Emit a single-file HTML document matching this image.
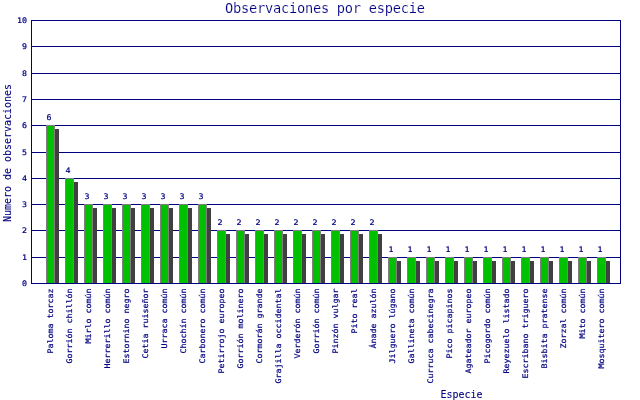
<!DOCTYPE html>
<html lang="es"><head><meta charset="utf-8"><title>Observaciones por especie</title>
<style>
html,body{margin:0;padding:0;background:#fff;}
body{width:640px;height:400px;overflow:hidden;}
svg{display:block;}
text{fill:#000080;white-space:pre;}
.big{font-family:"DejaVu Sans Mono","Liberation Mono",monospace;font-size:13.7px;stroke:#fff;stroke-width:0.15px;}
.small{font-family:"DejaVu Sans Mono","Liberation Mono",monospace;font-size:10px;stroke:#000080;stroke-width:0.09px;}

.tiny{font-family:"DejaVu Sans Mono","Liberation Mono",monospace;font-size:8.3px;stroke:#000080;stroke-width:0.22px;}

.g{fill:#00c000}.s{fill:#404040}.b{fill:#808080}.n{fill:#000080}
</style></head><body>
<svg width="640" height="400" viewBox="0 0 640 400">
<rect x="0" y="0" width="640" height="400" fill="#ffffff"/>
<g shape-rendering="crispEdges">
<rect class="n" x="31" y="283" width="590" height="1"/>
<rect class="n" x="31" y="257" width="590" height="1"/>
<rect class="n" x="31" y="230" width="590" height="1"/>
<rect class="n" x="31" y="204" width="590" height="1"/>
<rect class="n" x="31" y="178" width="590" height="1"/>
<rect class="n" x="31" y="152" width="590" height="1"/>
<rect class="n" x="31" y="125" width="590" height="1"/>
<rect class="n" x="31" y="99" width="590" height="1"/>
<rect class="n" x="31" y="73" width="590" height="1"/>
<rect class="n" x="31" y="46" width="590" height="1"/>
<rect class="n" x="31" y="20" width="590" height="1"/>
<rect class="n" x="31" y="20" width="1" height="264"/>
<rect class="n" x="620" y="20" width="1" height="264"/>
<rect class="s" x="55" y="129" width="4" height="154"/>
<rect class="b" x="46" y="125" width="9" height="158"/>
<rect class="g" x="47" y="126" width="7" height="157"/>
<rect class="s" x="74" y="182" width="4" height="101"/>
<rect class="b" x="65" y="178" width="9" height="105"/>
<rect class="g" x="66" y="179" width="7" height="104"/>
<rect class="s" x="93" y="208" width="4" height="75"/>
<rect class="b" x="84" y="204" width="9" height="79"/>
<rect class="g" x="85" y="205" width="7" height="78"/>
<rect class="s" x="112" y="208" width="4" height="75"/>
<rect class="b" x="103" y="204" width="9" height="79"/>
<rect class="g" x="104" y="205" width="7" height="78"/>
<rect class="s" x="131" y="208" width="4" height="75"/>
<rect class="b" x="122" y="204" width="9" height="79"/>
<rect class="g" x="123" y="205" width="7" height="78"/>
<rect class="s" x="150" y="208" width="4" height="75"/>
<rect class="b" x="141" y="204" width="9" height="79"/>
<rect class="g" x="142" y="205" width="7" height="78"/>
<rect class="s" x="169" y="208" width="4" height="75"/>
<rect class="b" x="160" y="204" width="9" height="79"/>
<rect class="g" x="161" y="205" width="7" height="78"/>
<rect class="s" x="188" y="208" width="4" height="75"/>
<rect class="b" x="179" y="204" width="9" height="79"/>
<rect class="g" x="180" y="205" width="7" height="78"/>
<rect class="s" x="207" y="208" width="4" height="75"/>
<rect class="b" x="198" y="204" width="9" height="79"/>
<rect class="g" x="199" y="205" width="7" height="78"/>
<rect class="s" x="226" y="234" width="4" height="49"/>
<rect class="b" x="217" y="230" width="9" height="53"/>
<rect class="g" x="218" y="231" width="7" height="52"/>
<rect class="s" x="245" y="234" width="4" height="49"/>
<rect class="b" x="236" y="230" width="9" height="53"/>
<rect class="g" x="237" y="231" width="7" height="52"/>
<rect class="s" x="264" y="234" width="4" height="49"/>
<rect class="b" x="255" y="230" width="9" height="53"/>
<rect class="g" x="256" y="231" width="7" height="52"/>
<rect class="s" x="283" y="234" width="4" height="49"/>
<rect class="b" x="274" y="230" width="9" height="53"/>
<rect class="g" x="275" y="231" width="7" height="52"/>
<rect class="s" x="302" y="234" width="4" height="49"/>
<rect class="b" x="293" y="230" width="9" height="53"/>
<rect class="g" x="294" y="231" width="7" height="52"/>
<rect class="s" x="321" y="234" width="4" height="49"/>
<rect class="b" x="312" y="230" width="9" height="53"/>
<rect class="g" x="313" y="231" width="7" height="52"/>
<rect class="s" x="340" y="234" width="4" height="49"/>
<rect class="b" x="331" y="230" width="9" height="53"/>
<rect class="g" x="332" y="231" width="7" height="52"/>
<rect class="s" x="359" y="234" width="4" height="49"/>
<rect class="b" x="350" y="230" width="9" height="53"/>
<rect class="g" x="351" y="231" width="7" height="52"/>
<rect class="s" x="378" y="234" width="4" height="49"/>
<rect class="b" x="369" y="230" width="9" height="53"/>
<rect class="g" x="370" y="231" width="7" height="52"/>
<rect class="s" x="397" y="261" width="4" height="22"/>
<rect class="b" x="388" y="257" width="9" height="26"/>
<rect class="g" x="389" y="258" width="7" height="25"/>
<rect class="s" x="416" y="261" width="4" height="22"/>
<rect class="b" x="407" y="257" width="9" height="26"/>
<rect class="g" x="408" y="258" width="7" height="25"/>
<rect class="s" x="435" y="261" width="4" height="22"/>
<rect class="b" x="426" y="257" width="9" height="26"/>
<rect class="g" x="427" y="258" width="7" height="25"/>
<rect class="s" x="454" y="261" width="4" height="22"/>
<rect class="b" x="445" y="257" width="9" height="26"/>
<rect class="g" x="446" y="258" width="7" height="25"/>
<rect class="s" x="473" y="261" width="4" height="22"/>
<rect class="b" x="464" y="257" width="9" height="26"/>
<rect class="g" x="465" y="258" width="7" height="25"/>
<rect class="s" x="492" y="261" width="4" height="22"/>
<rect class="b" x="483" y="257" width="9" height="26"/>
<rect class="g" x="484" y="258" width="7" height="25"/>
<rect class="s" x="511" y="261" width="4" height="22"/>
<rect class="b" x="502" y="257" width="9" height="26"/>
<rect class="g" x="503" y="258" width="7" height="25"/>
<rect class="s" x="530" y="261" width="4" height="22"/>
<rect class="b" x="521" y="257" width="9" height="26"/>
<rect class="g" x="522" y="258" width="7" height="25"/>
<rect class="s" x="549" y="261" width="4" height="22"/>
<rect class="b" x="540" y="257" width="9" height="26"/>
<rect class="g" x="541" y="258" width="7" height="25"/>
<rect class="s" x="568" y="261" width="4" height="22"/>
<rect class="b" x="559" y="257" width="9" height="26"/>
<rect class="g" x="560" y="258" width="7" height="25"/>
<rect class="s" x="587" y="261" width="4" height="22"/>
<rect class="b" x="578" y="257" width="9" height="26"/>
<rect class="g" x="579" y="258" width="7" height="25"/>
<rect class="s" x="606" y="261" width="4" height="22"/>
<rect class="b" x="597" y="257" width="9" height="26"/>
<rect class="g" x="598" y="258" width="7" height="25"/>
</g>
<text class="big" x="225" y="13" textLength="200" lengthAdjust="spacing">Observaciones por especie</text>
<text class="tiny" transform="translate(27,286) scale(1,0.920)" text-anchor="end" textLength="5" lengthAdjust="spacing">0</text>
<text class="tiny" transform="translate(27,260) scale(1,0.920)" text-anchor="end" textLength="5" lengthAdjust="spacing">1</text>
<text class="tiny" transform="translate(27,233) scale(1,0.920)" text-anchor="end" textLength="5" lengthAdjust="spacing">2</text>
<text class="tiny" transform="translate(27,207) scale(1,0.920)" text-anchor="end" textLength="5" lengthAdjust="spacing">3</text>
<text class="tiny" transform="translate(27,181) scale(1,0.920)" text-anchor="end" textLength="5" lengthAdjust="spacing">4</text>
<text class="tiny" transform="translate(27,155) scale(1,0.920)" text-anchor="end" textLength="5" lengthAdjust="spacing">5</text>
<text class="tiny" transform="translate(27,128) scale(1,0.920)" text-anchor="end" textLength="5" lengthAdjust="spacing">6</text>
<text class="tiny" transform="translate(27,102) scale(1,0.920)" text-anchor="end" textLength="5" lengthAdjust="spacing">7</text>
<text class="tiny" transform="translate(27,76) scale(1,0.920)" text-anchor="end" textLength="5" lengthAdjust="spacing">8</text>
<text class="tiny" transform="translate(27,49) scale(1,0.920)" text-anchor="end" textLength="5" lengthAdjust="spacing">9</text>
<text class="tiny" transform="translate(27,23) scale(1,0.920)" text-anchor="end" textLength="10" lengthAdjust="spacing">10</text>
<text class="tiny" transform="translate(46.5,120) scale(1,0.920)">6</text>
<text class="tiny" transform="translate(65.5,173) scale(1,0.920)">4</text>
<text class="tiny" transform="translate(84.5,199) scale(1,0.920)">3</text>
<text class="tiny" transform="translate(103.5,199) scale(1,0.920)">3</text>
<text class="tiny" transform="translate(122.5,199) scale(1,0.920)">3</text>
<text class="tiny" transform="translate(141.5,199) scale(1,0.920)">3</text>
<text class="tiny" transform="translate(160.5,199) scale(1,0.920)">3</text>
<text class="tiny" transform="translate(179.5,199) scale(1,0.920)">3</text>
<text class="tiny" transform="translate(198.5,199) scale(1,0.920)">3</text>
<text class="tiny" transform="translate(217.5,225) scale(1,0.920)">2</text>
<text class="tiny" transform="translate(236.5,225) scale(1,0.920)">2</text>
<text class="tiny" transform="translate(255.5,225) scale(1,0.920)">2</text>
<text class="tiny" transform="translate(274.5,225) scale(1,0.920)">2</text>
<text class="tiny" transform="translate(293.5,225) scale(1,0.920)">2</text>
<text class="tiny" transform="translate(312.5,225) scale(1,0.920)">2</text>
<text class="tiny" transform="translate(331.5,225) scale(1,0.920)">2</text>
<text class="tiny" transform="translate(350.5,225) scale(1,0.920)">2</text>
<text class="tiny" transform="translate(369.5,225) scale(1,0.920)">2</text>
<text class="tiny" transform="translate(388.5,252) scale(1,0.920)">1</text>
<text class="tiny" transform="translate(407.5,252) scale(1,0.920)">1</text>
<text class="tiny" transform="translate(426.5,252) scale(1,0.920)">1</text>
<text class="tiny" transform="translate(445.5,252) scale(1,0.920)">1</text>
<text class="tiny" transform="translate(464.5,252) scale(1,0.920)">1</text>
<text class="tiny" transform="translate(483.5,252) scale(1,0.920)">1</text>
<text class="tiny" transform="translate(502.5,252) scale(1,0.920)">1</text>
<text class="tiny" transform="translate(521.5,252) scale(1,0.920)">1</text>
<text class="tiny" transform="translate(540.5,252) scale(1,0.920)">1</text>
<text class="tiny" transform="translate(559.5,252) scale(1,0.920)">1</text>
<text class="tiny" transform="translate(578.5,252) scale(1,0.920)">1</text>
<text class="tiny" transform="translate(597.5,252) scale(1,0.920)">1</text>
<text class="tiny" transform="translate(53,288.5) rotate(-90) scale(1,0.920)" text-anchor="end" textLength="65" lengthAdjust="spacing">Paloma torcaz</text>
<text class="tiny" transform="translate(72,288.5) rotate(-90) scale(1,0.920)" text-anchor="end" textLength="75" lengthAdjust="spacing">Gorrión chillón</text>
<text class="tiny" transform="translate(91,288.5) rotate(-90) scale(1,0.920)" text-anchor="end" textLength="55" lengthAdjust="spacing">Mirlo común</text>
<text class="tiny" transform="translate(110,288.5) rotate(-90) scale(1,0.920)" text-anchor="end" textLength="80" lengthAdjust="spacing">Herrerillo común</text>
<text class="tiny" transform="translate(129,288.5) rotate(-90) scale(1,0.920)" text-anchor="end" textLength="75" lengthAdjust="spacing">Estornino negro</text>
<text class="tiny" transform="translate(148,288.5) rotate(-90) scale(1,0.920)" text-anchor="end" textLength="70" lengthAdjust="spacing">Cetia ruiseñor</text>
<text class="tiny" transform="translate(167,288.5) rotate(-90) scale(1,0.920)" text-anchor="end" textLength="60" lengthAdjust="spacing">Urraca común</text>
<text class="tiny" transform="translate(186,288.5) rotate(-90) scale(1,0.920)" text-anchor="end" textLength="65" lengthAdjust="spacing">Chochín común</text>
<text class="tiny" transform="translate(205,288.5) rotate(-90) scale(1,0.920)" text-anchor="end" textLength="75" lengthAdjust="spacing">Carbonero común</text>
<text class="tiny" transform="translate(224,288.5) rotate(-90) scale(1,0.920)" text-anchor="end" textLength="85" lengthAdjust="spacing">Petirrojo europeo</text>
<text class="tiny" transform="translate(243,288.5) rotate(-90) scale(1,0.920)" text-anchor="end" textLength="80" lengthAdjust="spacing">Gorrión molinero</text>
<text class="tiny" transform="translate(262,288.5) rotate(-90) scale(1,0.920)" text-anchor="end" textLength="75" lengthAdjust="spacing">Cormorán grande</text>
<text class="tiny" transform="translate(281,288.5) rotate(-90) scale(1,0.920)" text-anchor="end" textLength="95" lengthAdjust="spacing">Grajilla occidental</text>
<text class="tiny" transform="translate(300,288.5) rotate(-90) scale(1,0.920)" text-anchor="end" textLength="70" lengthAdjust="spacing">Verderón común</text>
<text class="tiny" transform="translate(319,288.5) rotate(-90) scale(1,0.920)" text-anchor="end" textLength="65" lengthAdjust="spacing">Gorrión común</text>
<text class="tiny" transform="translate(338,288.5) rotate(-90) scale(1,0.920)" text-anchor="end" textLength="65" lengthAdjust="spacing">Pinzón vulgar</text>
<text class="tiny" transform="translate(357,288.5) rotate(-90) scale(1,0.920)" text-anchor="end" textLength="45" lengthAdjust="spacing">Pito real</text>
<text class="tiny" transform="translate(376,288.5) rotate(-90) scale(1,0.920)" text-anchor="end" textLength="60" lengthAdjust="spacing">Ánade azulón</text>
<text class="tiny" transform="translate(395,288.5) rotate(-90) scale(1,0.920)" text-anchor="end" textLength="75" lengthAdjust="spacing">Jilguero lúgano</text>
<text class="tiny" transform="translate(414,288.5) rotate(-90) scale(1,0.920)" text-anchor="end" textLength="75" lengthAdjust="spacing">Gallineta común</text>
<text class="tiny" transform="translate(433,288.5) rotate(-90) scale(1,0.920)" text-anchor="end" textLength="95" lengthAdjust="spacing">Curruca cabecinegra</text>
<text class="tiny" transform="translate(452,288.5) rotate(-90) scale(1,0.920)" text-anchor="end" textLength="70" lengthAdjust="spacing">Pico picapinos</text>
<text class="tiny" transform="translate(471,288.5) rotate(-90) scale(1,0.920)" text-anchor="end" textLength="85" lengthAdjust="spacing">Agateador europeo</text>
<text class="tiny" transform="translate(490,288.5) rotate(-90) scale(1,0.920)" text-anchor="end" textLength="75" lengthAdjust="spacing">Picogordo común</text>
<text class="tiny" transform="translate(509,288.5) rotate(-90) scale(1,0.920)" text-anchor="end" textLength="85" lengthAdjust="spacing">Reyezuelo listado</text>
<text class="tiny" transform="translate(528,288.5) rotate(-90) scale(1,0.920)" text-anchor="end" textLength="90" lengthAdjust="spacing">Escribano triguero</text>
<text class="tiny" transform="translate(547,288.5) rotate(-90) scale(1,0.920)" text-anchor="end" textLength="80" lengthAdjust="spacing">Bisbita pratense</text>
<text class="tiny" transform="translate(566,288.5) rotate(-90) scale(1,0.920)" text-anchor="end" textLength="60" lengthAdjust="spacing">Zorzal común</text>
<text class="tiny" transform="translate(585,288.5) rotate(-90) scale(1,0.920)" text-anchor="end" textLength="50" lengthAdjust="spacing">Mito común</text>
<text class="tiny" transform="translate(604,288.5) rotate(-90) scale(1,0.920)" text-anchor="end" textLength="80" lengthAdjust="spacing">Mosquitero común</text>
<text class="small" transform="translate(11,222) rotate(-90) scale(1,1.1)" textLength="138" lengthAdjust="spacing">Numero de observaciones</text>
<text class="small" transform="translate(440.5,398) scale(1,1.1)" textLength="42" lengthAdjust="spacing">Especie</text>
</svg>
</body></html>
